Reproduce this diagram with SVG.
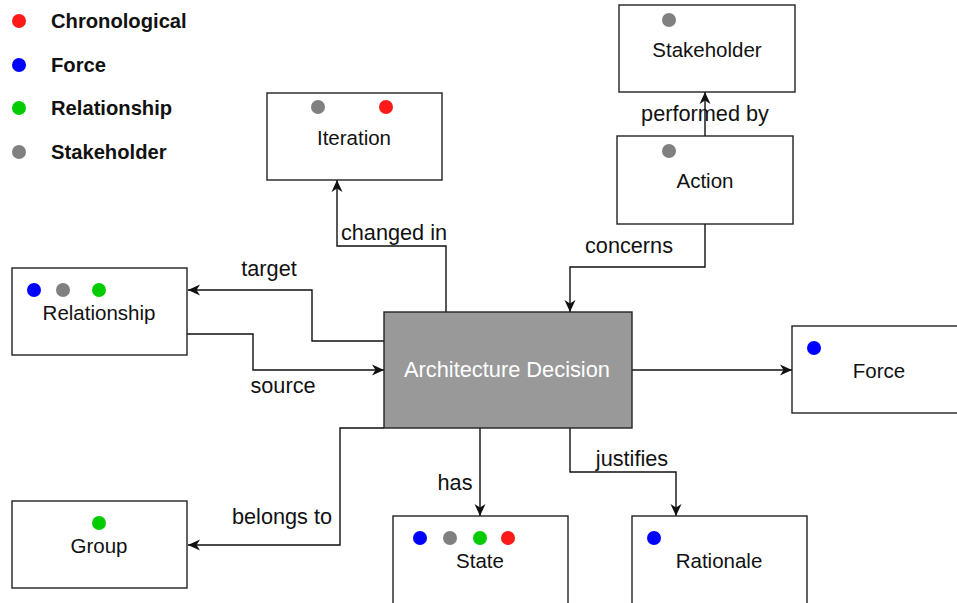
<svg xmlns="http://www.w3.org/2000/svg" width="957" height="603" viewBox="0 0 957 603">
  <style>
    .box { fill: #ffffff; stroke: #222222; stroke-width: 1.4; }
    .main { fill: #999999; stroke: #222222; stroke-width: 1.4; }
    .lbl { font-family: "Liberation Sans", Arial, sans-serif; font-size: 20.5px; fill: #111111; text-anchor: middle; }
    .mainlbl { font-family: "Liberation Sans", Arial, sans-serif; font-size: 21.8px; fill: #ffffff; text-anchor: middle; }
    .elbl { font-family: "Liberation Sans", Arial, sans-serif; font-size: 21.7px; fill: #111111; text-anchor: middle; }
    .leg { font-family: "Liberation Sans", Arial, sans-serif; font-size: 20.2px; font-weight: bold; fill: #111111; }
    .edge { fill: none; stroke: #111111; stroke-width: 1.4; marker-end: url(#arrow); }
    .red { fill: #ff1a1a; }
    .blue { fill: #0000ff; }
    .green { fill: #00cc00; }
    .gray { fill: #808080; }
  </style>
  <defs>
    <marker id="arrow" markerUnits="userSpaceOnUse" markerWidth="13" markerHeight="12" refX="12" refY="6" orient="auto">
      <path d="M0,0.5 L12,6 L0,11.5 L3.5,6 Z" fill="#111111"/>
    </marker>
  </defs>

  <rect x="0" y="0" width="957" height="603" fill="#ffffff"/>

  <!-- legend -->
  <g id="legend">
    <circle class="red" cx="19" cy="21" r="7"/>
    <text class="leg" x="51" y="28">Chronological</text>
    <circle class="blue" cx="19" cy="65" r="7"/>
    <text class="leg" x="51" y="72">Force</text>
    <circle class="green" cx="19" cy="108" r="7"/>
    <text class="leg" x="51" y="115">Relationship</text>
    <circle class="gray" cx="19" cy="152" r="7"/>
    <text class="leg" x="51" y="159">Stakeholder</text>
  </g>

  <!-- connectors -->
  <g id="connectors">
    <path class="edge" d="M446,312 V246 H337 V180"/>
    <path class="edge" d="M384,341 H312 V290 H188"/>
    <path class="edge" d="M187,334 H253 V370 H384"/>
    <path class="edge" d="M632,370 H792"/>
    <path class="edge" d="M705,224 V267 H570 V312"/>
    <path class="edge" d="M705,136 V92"/>
    <path class="edge" d="M480,428 V516"/>
    <path class="edge" d="M570,428 V472 H676 V516"/>
    <path class="edge" d="M384,428 H340 V545 H188"/>
    <text class="elbl" x="394" y="240">changed in</text>
    <text class="elbl" x="269" y="276">target</text>
    <text class="elbl" x="283" y="393">source</text>
    <text class="elbl" x="629" y="253">concerns</text>
    <text class="elbl" x="705" y="121">performed by</text>
    <text class="elbl" x="455" y="490">has</text>
    <text class="elbl" x="632" y="466">justifies</text>
    <text class="elbl" x="282" y="524">belongs to</text>
  </g>

  <!-- nodes -->
  <g id="node-iteration">
    <rect class="box" x="267" y="93" width="175" height="87"/>
    <circle class="gray" cx="318" cy="107" r="7"/>
    <circle class="red" cx="386" cy="107" r="7"/>
    <text class="lbl" x="354" y="145">Iteration</text>
  </g>
  <g id="node-relationship">
    <rect class="box" x="12" y="268" width="175" height="87"/>
    <circle class="blue" cx="34" cy="290" r="7"/>
    <circle class="gray" cx="63" cy="290" r="7"/>
    <circle class="green" cx="99" cy="290" r="7"/>
    <text class="lbl" x="99" y="320">Relationship</text>
  </g>
  <g id="node-decision">
    <rect class="main" x="384" y="312" width="248" height="116"/>
    <text class="mainlbl" x="507" y="377">Architecture Decision</text>
  </g>
  <g id="node-force">
    <rect class="box" x="792" y="326" width="175" height="87"/>
    <circle class="blue" cx="814" cy="348" r="7"/>
    <text class="lbl" x="879" y="378">Force</text>
  </g>
  <g id="node-group">
    <rect class="box" x="12" y="501" width="175" height="87"/>
    <circle class="green" cx="99" cy="523" r="7"/>
    <text class="lbl" x="99" y="553">Group</text>
  </g>
  <g id="node-state">
    <rect class="box" x="393" y="516" width="175" height="95"/>
    <circle class="blue" cx="420" cy="538" r="7"/>
    <circle class="gray" cx="450" cy="538" r="7"/>
    <circle class="green" cx="480" cy="538" r="7"/>
    <circle class="red" cx="508" cy="538" r="7"/>
    <text class="lbl" x="480" y="568">State</text>
  </g>
  <g id="node-rationale">
    <rect class="box" x="632" y="516" width="175" height="95"/>
    <circle class="blue" cx="654" cy="538" r="7"/>
    <text class="lbl" x="719" y="568">Rationale</text>
  </g>
  <g id="node-stakeholder">
    <rect class="box" x="619" y="5" width="176" height="87"/>
    <circle class="gray" cx="669" cy="20" r="7"/>
    <text class="lbl" x="707" y="57">Stakeholder</text>
  </g>
  <g id="node-action">
    <rect class="box" x="617" y="136" width="176" height="88"/>
    <circle class="gray" cx="669" cy="151" r="7"/>
    <text class="lbl" x="705" y="188">Action</text>
  </g>
</svg>
